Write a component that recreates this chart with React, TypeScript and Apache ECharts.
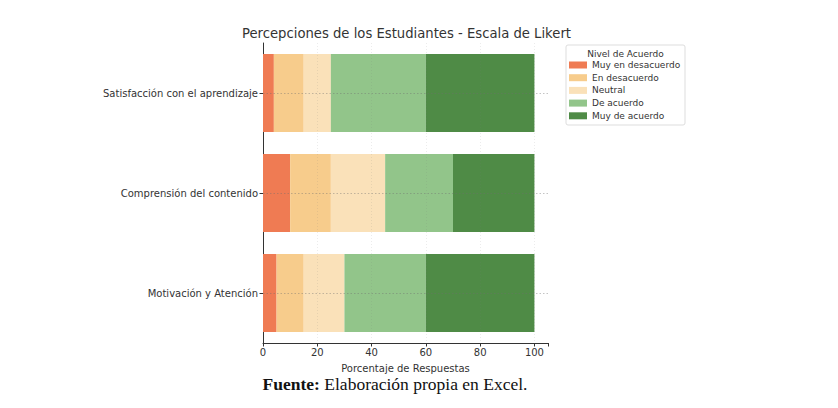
import React, { useEffect, useRef } from "react";
import * as echarts from "echarts";

const categories = [
  "Satisfacción con el aprendizaje",
  "Comprensión del contenido",
  "Motivación y Atención",
];
const levelNames = [
  "Muy en desacuerdo",
  "En desacuerdo",
  "Neutral",
  "De acuerdo",
  "Muy de acuerdo",
];
const muyEnDesacuerdo = [4, 10, 5];
const enDesacuerdo = [11, 15, 10];
const neutral = [10, 20, 15];
const deAcuerdo = [35, 25, 30];
const muyDeAcuerdo = [40, 30, 40];
const xTicks = [20, 40, 60, 80, 100];
const colors = ["#EF7B53", "#F7CC8C", "#FAE1B9", "#92C58A", "#4F8B46"];

export default function App() {
  const ref = useRef<HTMLDivElement>(null);
  useEffect(() => {
    document.body.style.margin = "0";
    if (!ref.current) return;
    const chart = echarts.init(ref.current, undefined, { renderer: "svg" });
    const values = [muyEnDesacuerdo, enDesacuerdo, neutral, deAcuerdo, muyDeAcuerdo];
    const font = "DejaVu Sans";
    const series: any[] = values.map((v, i) => ({
      name: levelNames[i],
      type: "bar",
      stack: "total",
      barWidth: 78,
      data: v,
      itemStyle: { color: colors[i] },
      emphasis: { disabled: true },
    }));
    series[series.length - 1].markLine = {
      silent: true,
      symbol: ["none", "none"],
      label: { show: false },
      data: [
        ...xTicks.map((t) => ({
          xAxis: t,
          lineStyle: { color: "rgba(120,120,120,0.18)", type: [1, 2], width: 0.8 },
        })),
        ...categories.map((c) => ({
          yAxis: c,
          lineStyle: { color: "rgba(110,110,110,0.45)", type: [1.5, 2], width: 0.9 },
        })),
      ],
    };
    chart.setOption({
      animation: false,
      textStyle: { fontFamily: font },
      grid: { left: 263, top: 43, width: 285, height: 300 },
      xAxis: {
        type: "value",
        min: 0,
        max: 105,
        interval: 20,
        name: "Porcentaje de Respuestas",
        nameLocation: "middle",
        nameGap: 20,
        nameTextStyle: { fontFamily: font, fontSize: 10, color: "#333" },
        axisLine: { show: true, lineStyle: { color: "#333", width: 1 } },
        axisTick: { show: true, length: 3.5, lineStyle: { color: "#333" } },
        axisLabel: {
          fontFamily: font,
          fontSize: 10,
          color: "#333",
          margin: 4,
          formatter: (v: number) => (v % 20 === 0 ? String(v) : ""),
        },
        splitLine: { show: false },
      },
      yAxis: {
        type: "category",
        data: categories,
        inverse: true,
        axisLine: { show: true, lineStyle: { color: "#333", width: 1 } },
        axisTick: { show: true, alignWithLabel: true, length: 3.5, lineStyle: { color: "#333" } },
        axisLabel: { fontFamily: font, fontSize: 10, color: "#333", margin: 5 },
        splitLine: { show: false },
      },
      legend: {
        orient: "vertical",
        left: 569,
        top: 60,
        itemWidth: 18,
        itemHeight: 7,
        itemGap: 2.7,
        icon: "rect",
        padding: 0,
        z: 10,
        data: levelNames,
        textStyle: { fontFamily: font, fontSize: 9, color: "#333", lineHeight: 10 },
      },
      graphic: [
        {
          type: "text",
          x: 406.5,
          y: 33,
          style: {
            text: "Percepciones de los Estudiantes - Escala de Likert",
            fontFamily: font,
            fontSize: 13.2,
            fill: "#333",
            align: "center",
            verticalAlign: "middle",
          },
        },
        {
          type: "rect",
          z: 1,
          shape: { x: 566, y: 45, width: 119, height: 80, r: 2 },
          style: { fill: "#fff", stroke: "#ddd", lineWidth: 1 },
        },
        {
          type: "text",
          z: 2,
          x: 625.5,
          y: 54,
          style: {
            text: "Nivel de Acuerdo",
            fontFamily: font,
            fontSize: 9,
            fill: "#333",
            align: "center",
            verticalAlign: "middle",
          },
        },
        {
          type: "text",
          x: 395,
          y: 384,
          style: {
            text: "{b|Fuente:} Elaboración propia en Excel.",
            fontFamily: "Liberation Serif",
            fontSize: 17.5,
            fill: "#111",
            align: "center",
            verticalAlign: "middle",
            rich: {
              b: {
                fontFamily: "Liberation Serif",
                fontSize: 17.5,
                fontWeight: "bold",
                fill: "#111",
              },
            },
          },
        },
      ],
      series,
    });
    return () => chart.dispose();
  }, []);
  return <div ref={ref} style={{ width: 838, height: 408 }} />;
}
